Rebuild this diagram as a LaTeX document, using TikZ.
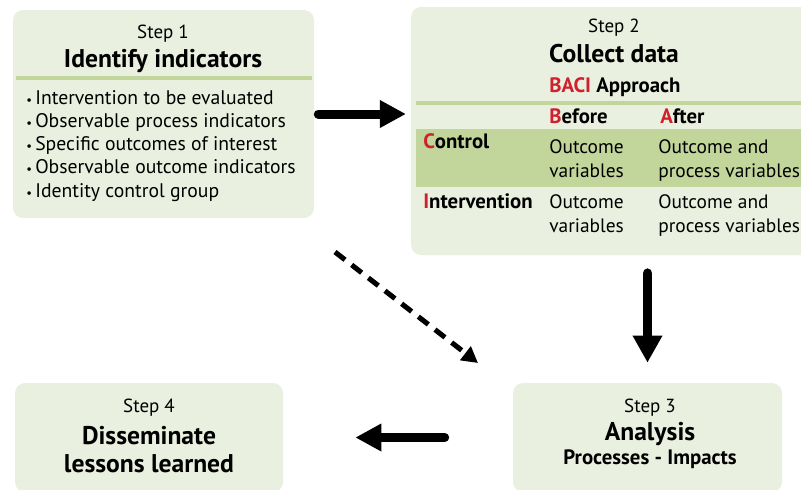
\documentclass[tikz,border=0pt]{standalone}
\usepackage{fontspec}
\setmainfont{PT Sans}
\usepackage{tikz}
\usetikzlibrary{arrows.meta,positioning,fit}

\definecolor{boxfill}{HTML}{EAF0DF}
\definecolor{bandgreen}{HTML}{C2D69B}
\definecolor{bacired}{HTML}{D0202E}
\newcommand{\rl}[1]{{\color{bacired}#1}}

\begin{document}
\begin{tikzpicture}[
  x=0.025cm, y=-0.025cm,
  block/.style={fill=boxfill, rounded corners=0.25cm, inner sep=0pt},
  steplabel/.style={inner sep=0pt, anchor=base, font=\fontsize{13.5}{16}\selectfont},
  title/.style={inner sep=0pt, anchor=base, font=\fontsize{18.2}{21}\selectfont\bfseries},
  item/.style={inner sep=0pt, anchor=base west, font=\fontsize{14}{17}\selectfont},
  cell/.style={inner sep=0pt, anchor=base west, font=\fontsize{13.8}{17}\selectfont},
  head/.style={inner sep=0pt, anchor=base west, font=\fontsize{14.8}{17}\selectfont\bfseries},
  line/.style={line width=6.4pt, line cap=round, -{Triangle[length=0.65cm, width=0.65cm]}}
]
\useasboundingbox (0,0) rectangle (801,489);
\clip (0,0) rectangle (801,489);

% boxes
\node[block, fit={(13,10) (314,218)}] (step1) {};
\node[block, fit={(411,7) (815,255)}] (step2) {};
\node[block, fit={(513,383) (782,492)}] (step3) {};
\node[block, fit={(15,383) (283,492)}] (step4) {};

% step 1
\node[steplabel] (s1label) at (163,38) {Step 1};
\node[title] (s1title) at (163,67) {Identify indicators};
\draw[bandgreen, line width=2.2pt] (16,78) -- (312,78);
\node[item] (i1) at (26,104) {{\small\textbullet}\,Intervention to be evaluated};
\node[item] (i2) at (26,127.3) {{\small\textbullet}\,Observable process indicators};
\node[item] (i3) at (26,150.6) {{\small\textbullet}\,Specific outcomes of interest};
\node[item] (i4) at (26,173.9) {{\small\textbullet}\,Observable outcome indicators};
\node[item] (i5) at (26,197.2) {{\small\textbullet}\,Identity control group};

% step 2
\node[steplabel] (s2label) at (614,32) {Step 2};
\node[title] (s2title) at (614,62) {Collect data};
\node[head] (baci) at (549,92) {\rl{BACI} Approach};
\draw[bandgreen, line width=2.2pt] (416,103) -- (815,103);
\fill[bandgreen] (416,129) rectangle (815,187);
\node[head] (before) at (549,123) {\rl{B}efore};
\node[head] (after) at (660,123) {\rl{A}fter};
\node[head] (control) at (423,148) {\rl{C}ontrol};
\node[cell] (cb1) at (549,153) {Outcome};
\node[cell] (cb2) at (549,177) {variables};
\node[cell] (ca1) at (658,153) {Outcome and};
\node[cell] (ca2) at (658,177) {process variables};
\node[head] (interv) at (423,208) {\rl{I}ntervention};
\node[cell] (ib1) at (549,208) {Outcome};
\node[cell] (ib2) at (549,232) {variables};
\node[cell] (ia1) at (658,208) {Outcome and};
\node[cell] (ia2) at (658,232) {process variables};

% step 3
\node[steplabel] (s3label) at (650,412) {Step 3};
\node[title] (s3title) at (650,440) {Analysis};
\node[head, anchor=base] (s3sub) at (650,464) {Processes - Impacts};

% step 4
\node[steplabel] (s4label) at (149,412) {Step 4};
\node[title] (s4title) at (149,444) {Disseminate};
\node[title] (s4title2) at (149,472) {lessons learned};

% arrows
\coordinate (dashfrom) at (335,252);
\coordinate (dashto) at (478,363);
\draw[line, shorten <=0.1cm, shorten >=0.12cm] (step1.east) -- (step1.east -| step2.west);
\draw[line, line width=7pt, -{Triangle[length=0.68cm, width=0.7cm]}, shorten <=0.45cm, shorten >=0.5cm] (step3.north |- step2.south) -- (step3.north);
\draw[line, shorten <=1.7cm, shorten >=1.8cm] (step3.west) -- (step4.east);
\draw[line, line width=3.6pt, dash pattern=on 9pt off 6pt, line cap=butt, -{Triangle[length=0.4cm, width=0.42cm]}] (dashfrom) -- (dashto);
\end{tikzpicture}
\end{document}
